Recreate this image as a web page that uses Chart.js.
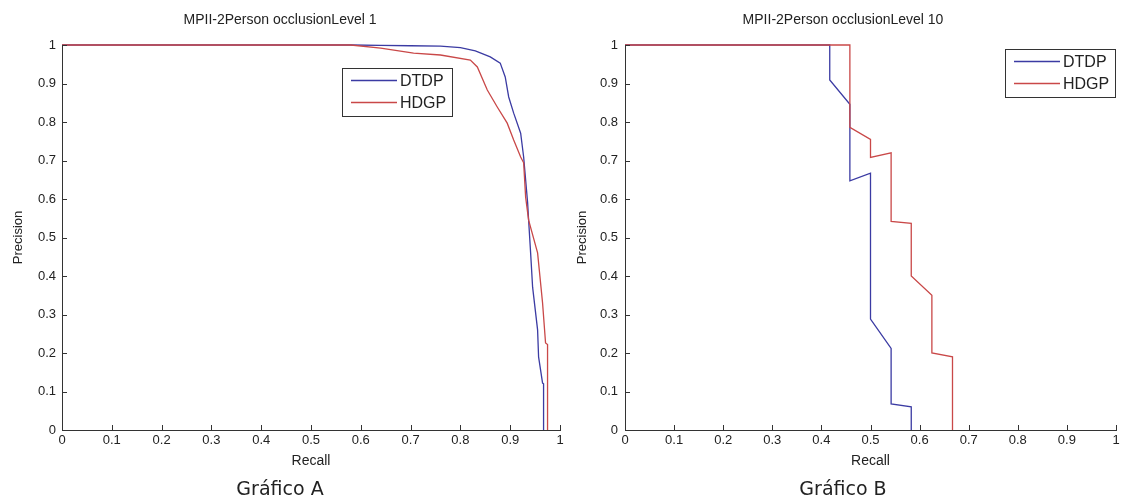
<!DOCTYPE html>
<html>
<head>
<meta charset="utf-8">
<title>MPII-2Person occlusionLevel</title>
<script src="https://cdn.jsdelivr.net/npm/chart.js@4.4.1/dist/chart.umd.min.js"></script>
<style>
  html, body { margin: 0; padding: 0; background: #fff; overflow: hidden; width: 1121px; height: 503px; }
  canvas { position: absolute; top: 0; }
  #chartA { left: 0; }
  #chartB { left: 570px; }
</style>
</head>
<body>
<canvas id="chartA" width="620" height="503"></canvas>
<canvas id="chartB" width="601" height="503"></canvas>
<script>
// series names, titles, captions
const seriesNames = ['DTDP', 'HDGP'];
const chartTitles = ['MPII-2Person occlusionLevel 1', 'MPII-2Person occlusionLevel 10'];
const captions = ['Gráfico A', 'Gráfico B'];
const tickLabels = ['0', '0.1', '0.2', '0.3', '0.4', '0.5', '0.6', '0.7', '0.8', '0.9', '1'];

// Gráfico A (occlusionLevel 1)
const recallA_DTDP = [0, 0.58, 0.64, 0.70, 0.76, 0.80, 0.83, 0.86, 0.88, 0.89, 0.897, 0.907, 0.921, 0.927, 0.935, 0.937, 0.941, 0.945, 0.955, 0.957, 0.965, 0.967, 0.967];
const precA_DTDP   = [1, 1, 0.999, 0.998, 0.997, 0.993, 0.985, 0.969, 0.953, 0.917, 0.865, 0.823, 0.771, 0.709, 0.59, 0.545, 0.46, 0.371, 0.26, 0.19, 0.122, 0.12, 0];
const recallA_HDGP = [0, 0.58, 0.64, 0.706, 0.76, 0.82, 0.834, 0.854, 0.874, 0.894, 0.907, 0.921, 0.927, 0.931, 0.937, 0.955, 0.965, 0.971, 0.975, 0.975];
const precA_HDGP   = [1, 1, 0.992, 0.979, 0.974, 0.961, 0.943, 0.883, 0.839, 0.797, 0.753, 0.709, 0.694, 0.605, 0.545, 0.46, 0.33, 0.226, 0.222, 0];

// Gráfico B (occlusionLevel 10)
const recallB_DTDP = [0, 0.417, 0.417, 0.458, 0.458, 0.5, 0.5, 0.542, 0.542, 0.583, 0.583];
const precB_DTDP   = [1, 1, 0.909, 0.846, 0.647, 0.667, 0.288, 0.212, 0.068, 0.06, 0];
const recallB_HDGP = [0, 0.458, 0.458, 0.5, 0.5, 0.542, 0.542, 0.583, 0.583, 0.625, 0.625, 0.667, 0.667];
const precB_HDGP   = [1, 1, 0.786, 0.755, 0.708, 0.72, 0.542, 0.537, 0.4, 0.35, 0.2, 0.19, 0];

const lineColors = ['#3b3ba3', '#c94848'];
const sans = '"Liberation Sans", Arial, sans-serif';

function toPoints(xs, ys) {
    return xs.map((x, i) => ({ x: x, y: ys[i] }));
}

// matlab style ticks pointing into the plot
const innerTicks = {
    id: 'innerTicks',
    afterDraw(chart) {
        const { ctx, chartArea, scales } = chart;
        ctx.save();
        ctx.strokeStyle = '#333';
        ctx.lineWidth = 1;
        ctx.beginPath();
        scales.x.ticks.forEach(t => {
            const px = Math.round(scales.x.getPixelForValue(t.value)) + 0.5;
            ctx.moveTo(px, chartArea.bottom);
            ctx.lineTo(px, chartArea.bottom - 5);
        });
        scales.y.ticks.forEach(t => {
            const py = Math.round(scales.y.getPixelForValue(t.value)) + 0.5;
            ctx.moveTo(chartArea.left, py);
            ctx.lineTo(chartArea.left + 5, py);
        });
        ctx.stroke();
        ctx.restore();
    }
};

// boxed legend inside the plot
const boxLegend = {
    id: 'boxLegend',
    afterDraw(chart, args, opts) {
        const { ctx, chartArea } = chart;
        const w = 110, h = 48;
        const bx = Math.round(chartArea.right - opts.right - w);
        const by = Math.round(chartArea.top + opts.top);
        ctx.save();
        ctx.fillStyle = '#fff';
        ctx.fillRect(bx, by, w, h);
        ctx.strokeStyle = '#333';
        ctx.lineWidth = 1;
        ctx.strokeRect(bx + 0.5, by + 0.5, w, h);
        ctx.font = '16px ' + sans;
        ctx.textBaseline = 'middle';
        chart.data.datasets.forEach((ds, i) => {
            const y = by + 12.5 + i * 22;
            ctx.strokeStyle = ds.borderColor;
            ctx.lineWidth = ds.borderWidth;
            ctx.beginPath();
            ctx.moveTo(bx + 9, y);
            ctx.lineTo(bx + 55, y);
            ctx.stroke();
            ctx.fillStyle = '#222';
            ctx.fillText(ds.label, bx + 58, y + 1);
        });
        ctx.restore();
    }
};

function makeChart(id, idx, sets, axisWidth, rightPad, legendPos, yTitlePad, yTickPad) {
    const ctx = document.getElementById(id).getContext('2d');
    return new Chart(ctx, {
        type: 'scatter',
        data: {
            datasets: sets.map((s, i) => ({
                label: seriesNames[i],
                data: toPoints(s[0], s[1]),
                showLine: true,
                borderColor: lineColors[i],
                backgroundColor: lineColors[i],
                borderWidth: 1.3,
                pointRadius: 0,
                tension: 0,
                fill: false,
                clip: 5,
                order: 2 - i
            }))
        },
        options: {
            responsive: false,
            animation: false,
            devicePixelRatio: 1,
            layout: { padding: { left: 0, right: rightPad, top: 0, bottom: 0 } },
            scales: {
                x: {
                    type: 'linear',
                    min: 0,
                    max: 1,
                    ticks: {
                        stepSize: 0.1,
                        autoSkip: false,
                        maxRotation: 0,
                        padding: 3,
                        color: '#222',
                        font: { family: sans, size: 13 },
                        callback: v => tickLabels[Math.round(v * 10)]
                    },
                    grid: { drawOnChartArea: false, drawTicks: false },
                    border: { display: true, color: '#333', width: 1 },
                    title: {
                        display: true,
                        text: 'Recall',
                        color: '#222',
                        font: { family: sans, size: 14 },
                        padding: { top: 0, bottom: 9 }
                    },
                    afterFit: s => { s.height = 48.6; }
                },
                y: {
                    type: 'linear',
                    min: 0,
                    max: 1,
                    ticks: {
                        stepSize: 0.1,
                        autoSkip: false,
                        padding: yTickPad,
                        color: '#222',
                        font: { family: sans, size: 13 },
                        callback: v => tickLabels[Math.round(v * 10)]
                    },
                    grid: { drawOnChartArea: false, drawTicks: false },
                    border: { display: true, color: '#333', width: 1 },
                    title: {
                        display: true,
                        text: 'Precision',
                        color: '#222',
                        font: { family: sans, size: 13 },
                        padding: { top: yTitlePad, bottom: 0 }
                    },
                    afterFit: s => { s.width = axisWidth; }
                }
            },
            plugins: {
                legend: { display: false },
                tooltip: { enabled: false },
                title: {
                    display: true,
                    text: chartTitles[idx],
                    color: '#222',
                    font: { family: sans, size: 14, weight: 'normal' },
                    padding: { top: 11.6, bottom: 16.6 }
                },
                subtitle: {
                    display: true,
                    position: 'bottom',
                    text: captions[idx],
                    color: '#222',
                    font: { family: '"DejaVu Sans", Verdana, sans-serif', size: 19 },
                    padding: { top: 0, bottom: 1.6 }
                },
                boxLegend: legendPos
            }
        },
        plugins: [innerTicks, boxLegend]
    });
}

makeChart('chartA', 0, [[recallA_DTDP, precA_DTDP], [recallA_HDGP, precA_HDGP]], 62, 60, { right: 108, top: 23 }, 10.2, 6);
makeChart('chartB', 1, [[recallB_DTDP, precB_DTDP], [recallB_HDGP, precB_HDGP]], 55, 55, { right: 1, top: 4 }, 4.2, 7);
</script>
</body>
</html>
